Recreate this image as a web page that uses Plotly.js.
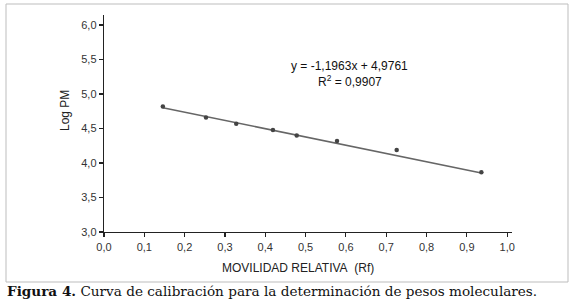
<!DOCTYPE html>
<html>
<head>
<meta charset="utf-8">
<script src="https://cdn.plot.ly/plotly-3.0.1.min.js"></script>
<style>html,body{margin:0;padding:0;background:#fff;}</style>
</head>
<body>
<div id="chart" style="width:576px;height:303px;"></div>
<script>
// Data
var rf = [0.146, 0.253, 0.328, 0.419, 0.478, 0.578, 0.726, 0.936];
var logPM = [4.82, 4.66, 4.57, 4.48, 4.40, 4.32, 4.19, 3.865];
// Linear trend line endpoints (y = -1,1963x + 4,9761)
var trendX = [0.146, 0.936];
var trendY = [4.801, 3.856];
var xTickVals = [0.0, 0.1, 0.2, 0.3, 0.4, 0.5, 0.6, 0.7, 0.8, 0.9, 1.0];
var xTickText = ["0,0", "0,1", "0,2", "0,3", "0,4", "0,5", "0,6", "0,7", "0,8", "0,9", "1,0"];
var yTickVals = [3.0, 3.5, 4.0, 4.5, 5.0, 5.5, 6.0];
var yTickText = ["3,0", "3,5", "4,0", "4,5", "5,0", "5,5", "6,0"];
var eqText = "y = -1,1963x + 4,9761";
var r2Text = "R<sup>2</sup> = 0,9907";
var xTitle = "MOVILIDAD RELATIVA\u00a0 (Rf)";
var yTitle = "Log PM";
var caption = "<b>Figura 4.</b> Curva de calibración para la determinación de pesos moleculares.";

var M = {l: 104, r: 64, t: 15, b: 71};
var W = 576 - M.l - M.r, H = 303 - M.t - M.b;
function px(x) { return (x - M.l) / W; }
function py(y) { return (303 - M.b - y) / H; }

var traces = [
  {x: trendX, y: trendY, type: 'scatter', mode: 'lines',
   line: {color: '#666', width: 1.6}, hoverinfo: 'skip', showlegend: false},
  {x: rf, y: logPM, type: 'scatter', mode: 'markers',
   marker: {color: '#444', size: 4.5, symbol: 'circle'}, showlegend: false}
];

var axisCommon = {
  showline: true, linecolor: '#222', linewidth: 1.3,
  ticks: 'outside', ticklen: 4, tickcolor: '#222', tickwidth: 1.2,
  showgrid: false, zeroline: false,
  tickfont: {family: 'Liberation Sans, Arial, sans-serif', size: 11, color: '#333'},
  tickmode: 'array', fixedrange: true
};

var layout = {
  width: 576, height: 303,
  margin: M,
  paper_bgcolor: '#fff', plot_bgcolor: '#fff',
  showlegend: false,
  xaxis: Object.assign({}, axisCommon, {range: [0, 1.012], tickvals: xTickVals, ticktext: xTickText}),
  yaxis: Object.assign({}, axisCommon, {range: [3.0, 6.145], tickvals: yTickVals, ticktext: yTickText}),
  annotations: [
    {x: 0.61, y: 5.40, xref: 'x', yref: 'y', text: eqText, showarrow: false,
     xanchor: 'center', yanchor: 'middle',
     font: {family: 'Liberation Sans, Arial, sans-serif', size: 12, color: '#111'}},
    {x: 0.61, y: 5.185, xref: 'x', yref: 'y', text: r2Text, showarrow: false,
     xanchor: 'center', yanchor: 'middle',
     font: {family: 'Liberation Sans, Arial, sans-serif', size: 12, color: '#111'}},
    {x: px(298), y: py(268), xref: 'paper', yref: 'paper', text: xTitle, showarrow: false,
     xanchor: 'center', yanchor: 'middle',
     font: {family: 'Liberation Sans, Arial, sans-serif', size: 12, color: '#222'}},
    {x: px(65), y: py(111), xref: 'paper', yref: 'paper', text: yTitle, showarrow: false,
     textangle: -90, xanchor: 'center', yanchor: 'middle',
     font: {family: 'Liberation Sans, Arial, sans-serif', size: 12, color: '#222'}},
    {x: px(5), y: py(291), xref: 'paper', yref: 'paper', text: caption, showarrow: false,
     xanchor: 'left', yanchor: 'middle',
     font: {family: 'DejaVu Serif, serif', size: 13.6, color: '#111'}}
  ],
  shapes: [
    {type: 'rect', xref: 'paper', yref: 'paper',
     x0: px(6), x1: px(568), y0: py(282), y1: py(4),
     line: {color: '#bdbdbd', width: 1}, fillcolor: 'rgba(0,0,0,0)', layer: 'below'}
  ]
};

Plotly.newPlot('chart', traces, layout, {staticPlot: true, displayModeBar: false});
</script>
</body>
</html>
